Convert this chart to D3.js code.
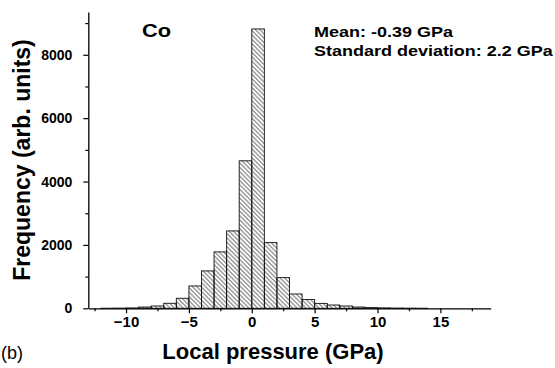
<!DOCTYPE html>
<html>
<head>
<meta charset="utf-8">
<script src="https://cdn.jsdelivr.net/npm/d3@7"></script>
<style>
  body { margin: 0; background: #fff; }
  text { font-family: "Liberation Sans", Arial, sans-serif; }
</style>
</head>
<body>
<svg id="hist" width="555" height="368"></svg>
<script>
// bin left edges (GPa), width 1 GPa
const binStarts = [-12, -11, -10, -9, -8, -7, -6, -5, -4, -3, -2, -1, 0, 1, 2, 3, 4, 5, 6, 7, 8, 9, 10, 11, 12, 13];
const counts    = [3, 6, 12, 40, 73, 158, 316, 705, 1180, 1780, 2442, 4654, 8815, 2073, 968, 452, 275, 155, 104, 73, 40, 22, 14, 8, 5, 3];

const xTicks = [-10, -5, 0, 5, 10, 15];
const xMinorTicks = [-12.5, -7.5, -2.5, 2.5, 7.5, 12.5, 17.5];
const yTicks = [0, 2000, 4000, 6000, 8000];
const yMinorTicks = [1000, 3000, 5000, 7000, 9000];

const element = "Co";
const statLines = ["Mean: -0.39 GPa", "Standard deviation: 2.2 GPa"];

const svg = d3.select("#hist");

const x = d3.scaleLinear().domain([-13, 19]).range([88.3, 490.7]);
const y = d3.scaleLinear().domain([0, 9350]).range([308.3, 12]);

// hatch pattern  "\\\\"
const defs = svg.append("defs");
defs.append("pattern")
    .attr("id", "hatch")
    .attr("patternUnits", "userSpaceOnUse")
    .attr("width", 4)
    .attr("height", 3.1)
    .attr("patternTransform", "rotate(45)")
  .append("line")
    .attr("x1", 0).attr("x2", 4)
    .attr("y1", 1.55).attr("y2", 1.55)
    .attr("stroke", "#222")
    .attr("stroke-width", 0.75);

const data = binStarts.map((b, i) => ({x0: b, x1: b + 1, n: counts[i]}));

// bars
svg.append("g")
  .selectAll("rect")
  .data(data)
  .join("rect")
    .attr("x", d => x(d.x0))
    .attr("width", d => x(d.x1) - x(d.x0))
    .attr("y", d => y(d.n))
    .attr("height", d => y(0) - y(d.n))
    .attr("fill", "url(#hatch)")
    .attr("stroke", "#111")
    .attr("stroke-width", 0.9);

// axes
function styleAxis(g) {
  g.select(".domain").attr("stroke", "#000").attr("stroke-width", 1.3);
  g.selectAll(".tick line").attr("stroke", "#000").attr("stroke-width", 1.2);
  g.selectAll(".tick text")
   .attr("fill", "#000")
   .style("font-weight", "bold")
   .style("font-family", "'Liberation Sans', Arial, sans-serif");
}

svg.append("g")
   .attr("transform", "translate(0," + y(0) + ")")
   .call(d3.axisBottom(x).tickValues(xMinorTicks).tickSize(3).tickFormat("").tickSizeOuter(0))
   .call(styleAxis);

svg.append("g")
   .attr("transform", "translate(0," + y(0) + ")")
   .call(d3.axisBottom(x).tickValues(xTicks).tickSize(5).tickPadding(3).tickSizeOuter(0).tickFormat(d3.format("d")))
   .call(styleAxis)
   .call(g => g.selectAll(".tick text").style("font-size", "15px"))
   .call(g => g.select(".domain").remove());

svg.append("g")
   .attr("transform", "translate(" + x(-13) + ",0)")
   .call(d3.axisLeft(y).tickValues(yMinorTicks).tickSize(3).tickFormat("").tickSizeOuter(0))
   .call(styleAxis);

svg.append("g")
   .attr("transform", "translate(" + x(-13) + ",0)")
   .call(d3.axisLeft(y).tickValues(yTicks).tickSize(5).tickPadding(11).tickSizeOuter(0).tickFormat(d3.format("d")))
   .call(styleAxis)
   .call(g => g.selectAll(".tick text").style("font-size", "14px"))
   .call(g => g.select(".domain").remove());

// axis titles
svg.append("text")
   .attr("transform", "translate(30,160) rotate(-90)")
   .attr("text-anchor", "middle")
   .style("font-size", "23px")
   .style("font-weight", "bold")
   .text("Frequency (arb. units)");

svg.append("text")
   .attr("x", 273)
   .attr("y", 359)
   .attr("text-anchor", "middle")
   .style("font-size", "22px")
   .style("font-weight", "bold")
   .text("Local pressure (GPa)");

svg.append("text")
   .attr("x", 1)
   .attr("y", 359)
   .style("font-size", "18px")
   .text("(b)");

// annotations
svg.append("text")
   .attr("transform", "translate(142,37) scale(1.15,1)")
   .style("font-size", "19px")
   .style("font-weight", "bold")
   .text(element);

svg.selectAll(".stat")
   .data(statLines)
   .join("text")
   .attr("class", "stat")
   .attr("transform", (d, i) => "translate(314," + (37 + i * 19) + ") scale(1.2,1)")
   .style("font-size", "15px")
   .style("font-weight", "bold")
   .text(d => d);
</script>
</body>
</html>
